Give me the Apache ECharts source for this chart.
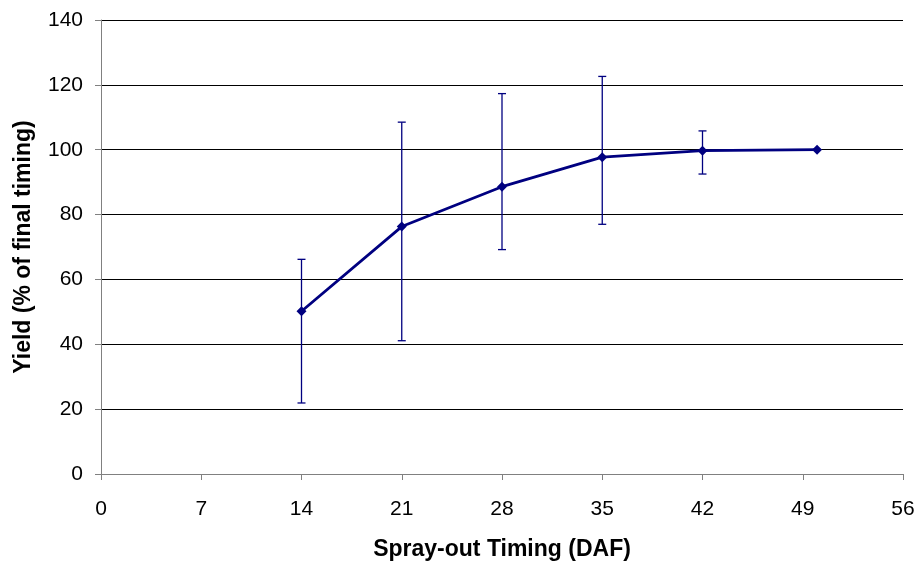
<!DOCTYPE html>
<html>
<head>
<meta charset="UTF-8">
<script src="https://cdn.jsdelivr.net/npm/echarts@6/dist/echarts.min.js"></script>
<style>
  html, body { margin: 0; padding: 0; background: #fff; }
  #chart { width: 919px; height: 561px; }
</style>
</head>
<body>
<div id="chart"></div>
<script>
    // spray-out timing (DAF) and yield, with error bar ends
    const timing = [14, 21, 28, 35, 42, 50];
    const yieldPct = [50.2, 76.3, 88.6, 97.7, 99.7, 100.0];
    const errLow = [21.9, 41.1, 69.2, 77.0, 92.5, null];
    const errHigh = [66.2, 108.5, 117.3, 122.6, 105.8, null];

    const navy = '#000080';
    const lineData = timing.map((t, i) => [t, yieldPct[i]]);
    const errData = [];
    timing.forEach((t, i) => {
        if (errLow[i] != null) errData.push([t, errLow[i], errHigh[i]]);
    });

    const chart = echarts.init(document.getElementById('chart'));
    chart.setOption({
        animation: false,
        grid: { left: 101, top: 20, right: 16, bottom: 87, containLabel: false, outerBoundsMode: 'none' },
        xAxis: {
            type: 'value', min: 0, max: 56, interval: 7,
            name: 'Spray-out Timing (DAF)', nameLocation: 'middle', nameGap: 64,
            nameTextStyle: { fontFamily: 'Liberation Sans', fontWeight: 'bold', fontSize: 23, color: '#000' },
            axisLine: { lineStyle: { color: '#808080', width: 1 } },
            axisTick: { inside: false, length: 6, lineStyle: { color: '#808080' } },
            axisLabel: { fontFamily: 'Liberation Sans', fontSize: 21, color: '#000', margin: 25 },
            splitLine: { show: false }
        },
        yAxis: {
            type: 'value', min: 0, max: 140, interval: 20,
            name: 'Yield (% of final timing)', nameLocation: 'middle', nameGap: 66, nameRotate: 90,
            nameTextStyle: { fontFamily: 'Liberation Sans', fontWeight: 'bold', fontSize: 23, color: '#000' },
            axisLine: { show: true, lineStyle: { color: '#808080', width: 1 } },
            axisTick: { show: true, length: 6, lineStyle: { color: '#808080' } },
            axisLabel: { fontFamily: 'Liberation Sans', fontSize: 21, color: '#000', margin: 18 },
            splitLine: { lineStyle: { color: '#000', width: 1 } }
        },
        series: [
            {
                type: 'custom',
                data: errData,
                z: 2,
                renderItem: function (params, api) {
                    const x = api.value(0);
                    const lo = api.coord([x, api.value(1)]);
                    const hi = api.coord([x, api.value(2)]);
                    const w = 4;
                    const style = { stroke: navy, lineWidth: 1.3 };
                    return {
                        type: 'group',
                        children: [
                            { type: 'line', shape: { x1: lo[0], y1: lo[1], x2: hi[0], y2: hi[1] }, style: style },
                            { type: 'line', shape: { x1: lo[0] - w, y1: lo[1], x2: lo[0] + w, y2: lo[1] }, style: style },
                            { type: 'line', shape: { x1: hi[0] - w, y1: hi[1], x2: hi[0] + w, y2: hi[1] }, style: style }
                        ]
                    };
                }
            },
            {
                type: 'line',
                data: lineData,
                z: 3,
                symbol: 'diamond',
                symbolSize: 10,
                lineStyle: { color: navy, width: 2.8 },
                itemStyle: { color: navy }
            }
        ]
    });
</script>
</body>
</html>
